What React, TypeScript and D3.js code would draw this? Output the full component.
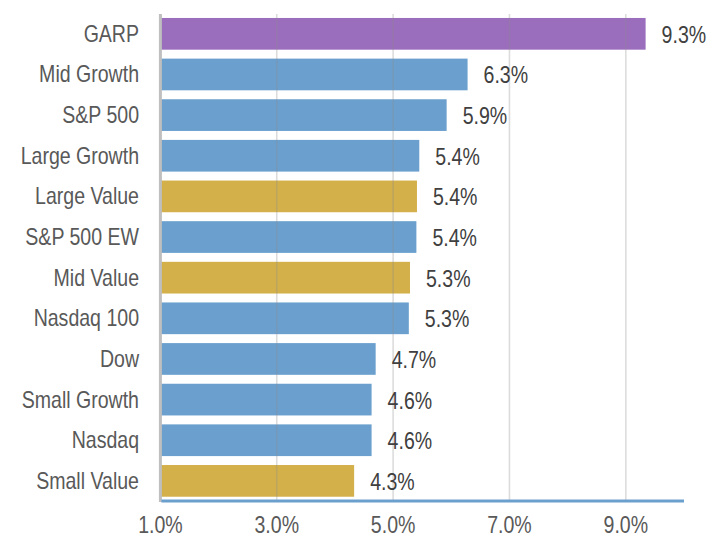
import React from "react";
import * as d3 from "d3";

const categories = ["GARP", "Mid Growth", "S&P 500", "Large Growth", "Large Value", "S&P 500 EW", "Mid Value", "Nasdaq 100", "Dow", "Small Growth", "Nasdaq", "Small Value"];
const values = [9.34, 6.28, 5.92, 5.45, 5.41, 5.40, 5.29, 5.27, 4.70, 4.63, 4.63, 4.33];
const labels = ["9.3%", "6.3%", "5.9%", "5.4%", "5.4%", "5.4%", "5.3%", "5.3%", "4.7%", "4.6%", "4.6%", "4.3%"];
const groups = ["garp", "growth", "growth", "growth", "value", "growth", "value", "growth", "growth", "growth", "growth", "value"];
const xTicks = [1, 3, 5, 7, 9];
const xTickLabels = ["1.0%", "3.0%", "5.0%", "7.0%", "9.0%"];

const colors: Record<string, string> = { garp: "#9b6dbd", growth: "#6a9fce", value: "#d3b04a" };

const W = 722, H = 538;
const FONT = "'Liberation Sans', Arial, sans-serif";
const SX = 0.85;

function NText({ x, y, anchor, children, fill = "#595959", size = 23 }: any) {
  return (
    <g transform={`translate(${x},${y}) scale(${SX},1)`}>
      <text x={0} y={0} textAnchor={anchor} fontFamily={FONT} fontSize={size} fill={fill}>{children}</text>
    </g>
  );
}

export default function App() {
  const x = d3.scaleLinear().domain([1, 10]).range([160.4, 684]);
  const y = d3.scaleBand<string>().domain(categories).range([13.5, 501.2]).paddingInner(0.22).paddingOuter(0.11);
  const top = 14, bottom = 501;
  return (
    <svg width={W} height={H} style={{ position: "absolute", left: 0, top: 0 }}>
      <rect width={W} height={H} fill="#fff" />
      {categories.map((c, i) => (
        <rect key={c} x={x(1)} y={y(c)} width={x(values[i]) - x(1)} height={y.bandwidth()} fill={colors[groups[i]]} />
      ))}
      {xTicks.slice(1).map(t => (
        <line key={t} x1={x(t)} x2={x(t)} y1={top} y2={bottom} stroke="#8c8c8c" strokeOpacity={0.3} strokeWidth={1.6} />
      ))}
      <line x1={x(1)} x2={x(1)} y1={top} y2={bottom + 1} stroke="#bfbfbf" strokeWidth={3} />
      <line x1={x(1) + 1} x2={x(10)} y1={bottom} y2={bottom} stroke="#6a9fce" strokeWidth={3} />
      {categories.map((c, i) => (
        <g key={c}>
          <NText x={139} y={(y(c) as number) + y.bandwidth() / 2 + 8} anchor="end">{c}</NText>
          <NText x={x(values[i]) + 16} y={(y(c) as number) + y.bandwidth() / 2 + 9} anchor="start" fill="#404040">{labels[i]}</NText>
        </g>
      ))}
      {xTicks.map((t, i) => (
        <NText key={t} x={x(t)} y={533} anchor="middle">{xTickLabels[i]}</NText>
      ))}
    </svg>
  );
}
